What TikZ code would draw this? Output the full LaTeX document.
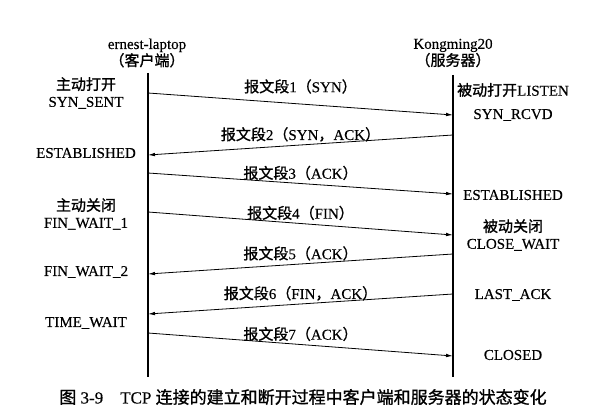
\documentclass[tikz,border=0pt]{standalone}
\usepackage{fontspec}
\setmainfont[FakeBold=0.3]{Liberation Serif}
\newfontfamily\cjk[FakeBold=1.2]{Noto Sans CJK SC}
\usetikzlibrary{arrows.meta}
\newcommand{\zh}[1]{{\cjk #1}}
\tikzset{
  life/.style={line width=2.6pt},
  msg/.style={-{Latex[length=7pt,width=3.6pt]},line width=0.8pt},
  state/.style={align=center,inner sep=0pt,font=\fontsize{15}{17}\selectfont},
  seg/.style={midway,above=3pt,inner sep=0pt,font=\fontsize{15}{17}\selectfont}
}

\begin{document}
\begin{tikzpicture}[x=1pt,y=-1pt]
\useasboundingbox (0,0) rectangle (611,414);

% hosts and life lines
\node[state] (client) at (147,53) {ernest-laptop\\\zh{（客户端）}};
\node[state] (server) at (453,53) {Kongming20\\\zh{（服务器）}};
\coordinate (ctop) at (148,73);
\coordinate (cbot) at (148,377);
\coordinate (stop) at (453,75);
\coordinate (sbot) at (453,377);
\draw[life] (ctop) -- (cbot);
\draw[life] (stop) -- (sbot);

% client states
\node[state] (synsent) at (86,93) {\zh{主动打开}\\SYN\_SENT};
\node[state] (cest) at (86,153) {ESTABLISHED};
\node[state] (finwait1) at (86,214) {\zh{主动关闭}\\FIN\_WAIT\_1};
\node[state] (finwait2) at (86,272) {FIN\_WAIT\_2};
\node[state] (timewait) at (86,323) {TIME\_WAIT};

% server states
\node[state] (listen) at (513,90) {\zh{被动打开}LISTEN};
\node[state] (synrcvd) at (513,115) {SYN\_RCVD};
\node[state] (sest) at (513,195) {ESTABLISHED};
\node[state] (closewait) at (513,235) {\zh{被动关闭}\\CLOSE\_WAIT};
\node[state] (lastack) at (513,295) {LAST\_ACK};
\node[state] (closed) at (513,355) {CLOSED};

% segment end points
\coordinate (c1) at (148,93);  \coordinate (s1) at (453,115);
\coordinate (s2) at (453,135); \coordinate (c2) at (148,155);
\coordinate (c3) at (148,173); \coordinate (s3) at (453,194);
\coordinate (c4) at (148,212); \coordinate (s4) at (453,235);
\coordinate (s5) at (453,254); \coordinate (c5) at (148,274);
\coordinate (s6) at (453,294); \coordinate (c6) at (148,314);
\coordinate (c7) at (148,333); \coordinate (s7) at (453,356);

% segments
\draw[msg] (c1) -- node[seg,above=7pt] {\zh{报文段}1\zh{（}SYN\zh{）}} (s1);
\draw[msg] (s2) -- node[seg] {\zh{报文段}2\zh{（}SYN\zh{，}ACK\zh{）}} (c2);
\draw[msg] (c3) -- node[seg] {\zh{报文段}3\zh{（}ACK\zh{）}} (s3);
\draw[msg] (c4) -- node[seg] {\zh{报文段}4\zh{（}FIN\zh{）}} (s4);
\draw[msg] (s5) -- node[seg] {\zh{报文段}5\zh{（}ACK\zh{）}} (c5);
\draw[msg] (s6) -- node[seg] {\zh{报文段}6\zh{（}FIN\zh{，}ACK\zh{）}} (c6);
\draw[msg] (c7) -- node[seg] {\zh{报文段}7\zh{（}ACK\zh{）}} (s7);

% caption
\node[font=\fontsize{17}{19}\selectfont] (caption) at (303,397)
  {\zh{图} 3-9\quad TCP \zh{连接的建立和断开过程中客户端和服务器的状态变化}};

\end{tikzpicture}
\end{document}
